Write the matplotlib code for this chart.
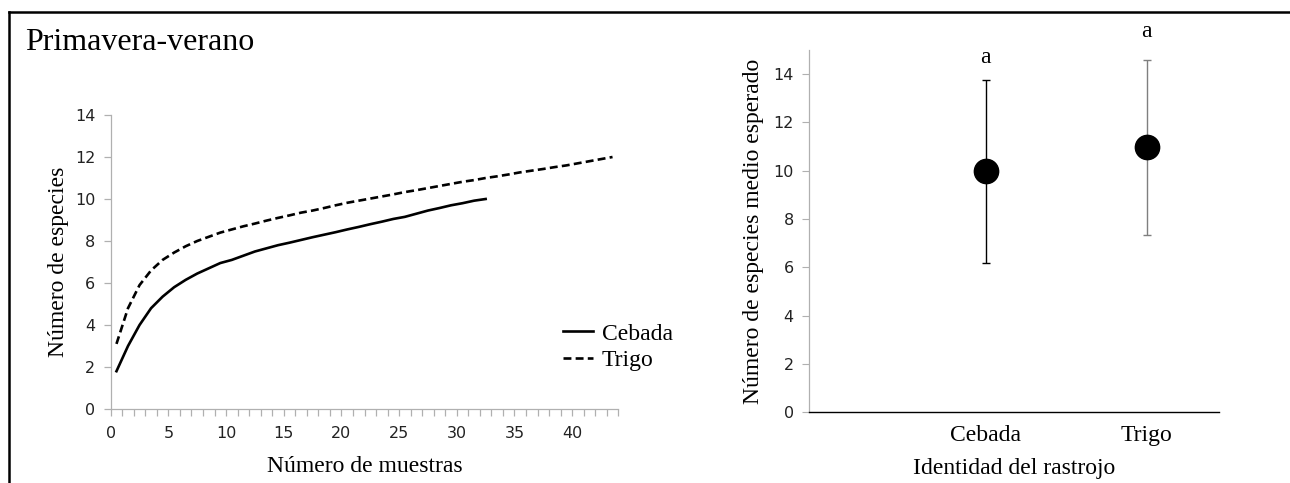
import numpy as np
import matplotlib.pyplot as plt
from matplotlib.lines import Line2D

# curvas de acumulacion
cebada_y = [1.8, 3.0, 4.0, 4.8, 5.35, 5.8, 6.15, 6.45, 6.7, 6.95, 7.1,
            7.3, 7.5, 7.65, 7.8, 7.92, 8.05, 8.18, 8.3, 8.42, 8.55, 8.67,
            8.8, 8.92, 9.05, 9.15, 9.3, 9.45, 9.57, 9.7, 9.8, 9.92, 10.0]
trigo_y = [3.1, 4.8, 5.9, 6.6, 7.1, 7.45, 7.75, 8.0, 8.2, 8.4, 8.55,
           8.7, 8.83, 8.97, 9.1, 9.22, 9.35, 9.45, 9.57, 9.7, 9.82, 9.92,
           10.02, 10.12, 10.22, 10.33, 10.42, 10.52, 10.62, 10.72, 10.82,
           10.9, 11.0, 11.08, 11.17, 11.27, 11.35, 11.43, 11.52, 11.6,
           11.7, 11.8, 11.9, 12.0]

# medias y limites del intervalo
rastrojos = ["Cebada", "Trigo"]
media = [10.0, 11.0]
lim_inf = [6.2, 7.35]
lim_sup = [13.75, 14.6]
letras = ["a", "a"]
letra_y = [14.7, 15.75]

SERIF = "Liberation Serif"
SANS = "DejaVu Sans"


def main():
    fig = plt.figure(figsize=(12.9, 4.83), dpi=100)

    # marco de la figura (arriba e izquierda)
    fig.add_artist(Line2D([9 / 1290, 1.0], [1 - 12 / 483, 1 - 12 / 483],
                          transform=fig.transFigure, color="black", lw=1.8))
    fig.add_artist(Line2D([9 / 1290, 9 / 1290], [0.0, 1 - 12 / 483],
                          transform=fig.transFigure, color="black", lw=1.8))

    fig.text(25 / 1290, 1 - 43 / 483, "Primavera-verano", family=SERIF,
             fontsize=23, va="center", ha="left")

    # --- panel izquierdo: curvas ---
    ax1 = fig.add_axes([110.7 / 1290, 74 / 483, 507.6 / 1290, 294 / 483])
    x_c = np.arange(1, len(cebada_y) + 1) - 0.5
    x_t = np.arange(1, len(trigo_y) + 1) - 0.5
    ax1.plot(x_c, cebada_y, color="black", lw=1.9, label="Cebada")
    ax1.plot(x_t, trigo_y, color="black", lw=1.9, ls=(0, (3, 1.6)),
             label="Trigo")
    ax1.set_xlim(0, 44)
    ax1.set_ylim(0, 14)
    ax1.set_xticks(np.arange(0, 41, 5))
    ax1.set_xticks(np.arange(0, 45, 1), minor=True)
    ax1.set_yticks(np.arange(0, 15, 2))
    for s in ["top", "right"]:
        ax1.spines[s].set_visible(False)
    for s in ["left", "bottom"]:
        ax1.spines[s].set_color("#b0b0b0")
        ax1.spines[s].set_linewidth(0.9)
    ax1.tick_params(axis="both", which="both", color="#b0b0b0", width=0.9,
                    labelsize=11.5, labelcolor="#222222")
    ax1.tick_params(axis="x", which="both", length=5, pad=7)
    ax1.tick_params(axis="y", length=5, pad=6)
    for t in ax1.get_xticklabels() + ax1.get_yticklabels():
        t.set_family(SANS)
    ax1.set_xlabel("Número de muestras", family=SERIF, fontsize=17,
                   labelpad=11)
    ax1.set_ylabel("Número de especies", family=SERIF, fontsize=17,
                   labelpad=4)
    ax1.legend(loc="upper left", bbox_to_anchor=(563 / 1290, 1 - 323 / 483),
               bbox_transform=fig.transFigure, frameon=False,
               prop={"family": SERIF, "size": 17}, handlelength=1.25,
               handletextpad=0.4, labelspacing=0.2, borderpad=0,
               borderaxespad=0)

    # --- panel derecho: medias ---
    ax2 = fig.add_axes([809 / 1290, 70.7 / 483, 410 / 1290, 362.3 / 483])
    pos = np.arange(1, len(rastrojos) + 1)
    colores_barra = ["black", "#7f7f7f"]
    for p, m, lo, hi, c in zip(pos, media, lim_inf, lim_sup, colores_barra):
        ax2.errorbar([p], [m], yerr=[[m - lo], [hi - m]], fmt="none",
                     ecolor=c, elinewidth=1.0, capsize=3, capthick=1.0)
    ax2.plot(pos, media, "o", color="black", ms=17.5, zorder=3)
    for p, l, ly in zip(pos, letras, letra_y):
        ax2.text(p, ly, l, family=SERIF, fontsize=17, ha="center",
                 va="center", clip_on=False)
    ax2.set_xlim(-0.1, 2.45)
    ax2.set_ylim(0, 15)
    ax2.set_yticks(np.arange(0, 15, 2))
    ax2.set_xticks(pos)
    ax2.set_xticklabels(rastrojos, family=SERIF, fontsize=17)
    for s in ["top", "right"]:
        ax2.spines[s].set_visible(False)
    ax2.spines["left"].set_color("#b0b0b0")
    ax2.spines["left"].set_linewidth(0.9)
    ax2.spines["bottom"].set_linewidth(1.0)
    ax2.tick_params(axis="x", length=0, pad=9)
    ax2.tick_params(axis="y", length=5, pad=6, color="#b0b0b0",
                    labelsize=11.5, labelcolor="#222222")
    for t in ax2.get_yticklabels():
        t.set_family(SANS)
    ax2.set_xlabel("Identidad del rastrojo", family=SERIF, fontsize=17,
                   labelpad=9)
    ax2.set_ylabel("Número de especies medio esperado", family=SERIF,
                   fontsize=17, labelpad=7)

    fig.savefig("out.png", dpi=100)


if __name__ == "__main__":
    main()
